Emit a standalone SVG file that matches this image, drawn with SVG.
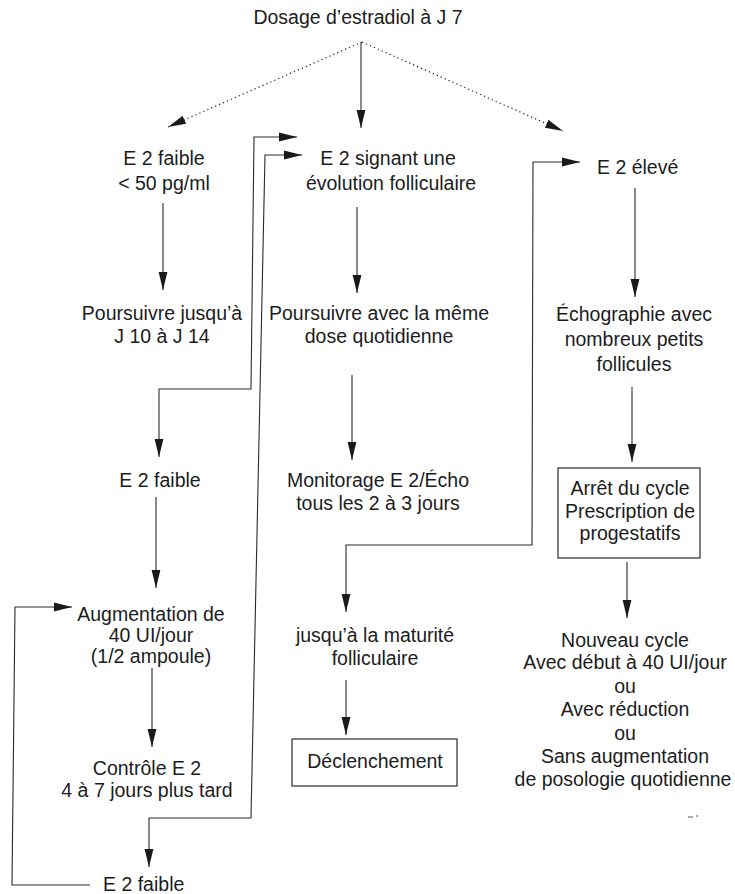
<svg xmlns="http://www.w3.org/2000/svg" width="735" height="894" viewBox="0 0 735 894">
<defs>
<marker id="ah" markerUnits="userSpaceOnUse" markerWidth="20" markerHeight="10" refX="18" refY="5" orient="auto-start-reverse" viewBox="0 0 20 10">
<path d="M0,0.6 L18,5 L0,9.4 Z" fill="#1a1a1a"/>
</marker>
</defs>
<style>
text{font-family:"Liberation Sans",Arial,sans-serif;font-size:19.5px;fill:#1c1c1c}
.c{text-anchor:middle}
.ln{fill:none;stroke:#2a2a2a;stroke-width:1.1}
.dot{fill:none;stroke:#2a2a2a;stroke-width:1.2;stroke-dasharray:1.3 3}
.a{marker-end:url(#ah)}
.b{marker-start:url(#ah);marker-end:url(#ah)}
.box{fill:none;stroke:#2a2a2a;stroke-width:1.2}
</style>
<rect width="735" height="894" fill="#fff"/>
<g id="connectors">
<path class="dot a" d="M362,42 L168,127"/>
<path class="dot a" d="M362,42 L563,131"/>
<path class="ln a" d="M361,42 L361,128"/>
<path class="ln a" d="M163,203 L163,290"/>
<path class="ln a" d="M357,207 L357,293"/>
<path class="ln a" d="M635,188 L635,297"/>
<path class="ln b" d="M159,457 L159,389 L251,389 L254,137 L297,137"/>
<path class="ln b" d="M149,867 L149,818 L251,818 L265,155 L302,155"/>
<path class="ln a" d="M156,497 L156,588"/>
<path class="ln a" d="M90,885 L12,885 L15,607 L72,607"/>
<path class="ln a" d="M152,668 L152,747"/>
<path class="ln a" d="M352,375 L352,460"/>
<path class="ln b" d="M346,612 L346,545 L532,545 L533,162 L580,162"/>
<path class="ln a" d="M632,387 L632,462"/>
<path class="ln a" d="M627,562 L627,618"/>
<path class="ln a" d="M346,680 L346,735"/>
</g>
<g id="n-titre"><text class="c" x="358" y="24">Dosage d’estradiol à J 7</text></g>
<g id="n-e2faible1"><text class="c" x="164" y="165">E 2 faible</text><text class="c" x="164" y="190">&lt; 50 pg/ml</text></g>
<g id="n-e2signant"><text class="c" x="388" y="165">E 2 signant une</text><text class="c" x="391" y="190">évolution folliculaire</text></g>
<g id="n-e2eleve"><text x="597" y="174">E 2 élevé</text></g>
<g id="n-poursuivre1"><text class="c" x="162" y="320">Poursuivre jusqu’à</text><text class="c" x="162" y="343">J 10 à J 14</text></g>
<g id="n-poursuivre2"><text class="c" x="379" y="320">Poursuivre avec la même</text><text class="c" x="379" y="343">dose quotidienne</text></g>
<g id="n-echo"><text class="c" x="634" y="321">Échographie avec</text><text class="c" x="634" y="346">nombreux petits</text><text class="c" x="634" y="371">follicules</text></g>
<g id="n-e2faible2"><text class="c" x="160" y="487">E 2 faible</text></g>
<g id="n-monitorage"><text class="c" x="378" y="487">Monitorage E 2/Écho</text><text class="c" x="378" y="510">tous les 2 à 3 jours</text></g>
<g id="n-arret"><rect class="box" x="558" y="468" width="142" height="90"/><text class="c" x="630" y="495">Arrêt du cycle</text><text class="c" x="630" y="518">Prescription de</text><text class="c" x="630" y="540">progestatifs</text></g>
<g id="n-augmentation"><text class="c" x="151" y="621">Augmentation de</text><text class="c" x="151" y="642">40 UI/jour</text><text class="c" x="151" y="663">(1/2 ampoule)</text></g>
<g id="n-maturite"><text class="c" x="375" y="642">jusqu’à la maturité</text><text class="c" x="375" y="665">folliculaire</text></g>
<g id="n-nouveau"><text class="c" x="625" y="647">Nouveau cycle</text><text class="c" x="625" y="669">Avec début à 40 UI/jour</text><text class="c" x="625" y="693">ou</text><text class="c" x="625" y="716">Avec réduction</text><text class="c" x="625" y="740">ou</text><text class="c" x="625" y="763">Sans augmentation</text><text class="c" x="623" y="786">de posologie quotidienne</text></g>
<g id="n-declenchement"><rect class="box" x="292" y="739" width="165" height="47"/><text class="c" x="375" y="768">Déclenchement</text></g>
<g id="n-controle"><text class="c" x="147" y="775">Contrôle E 2</text><text class="c" x="147" y="797">4 à 7 jours plus tard</text></g>
<g id="n-e2faible3"><text x="103" y="891">E 2 faible</text></g>
<path d="M688,817 L693,817 M697,815 L697,817" fill="none" stroke="#555" stroke-width="1"/>
</svg>
